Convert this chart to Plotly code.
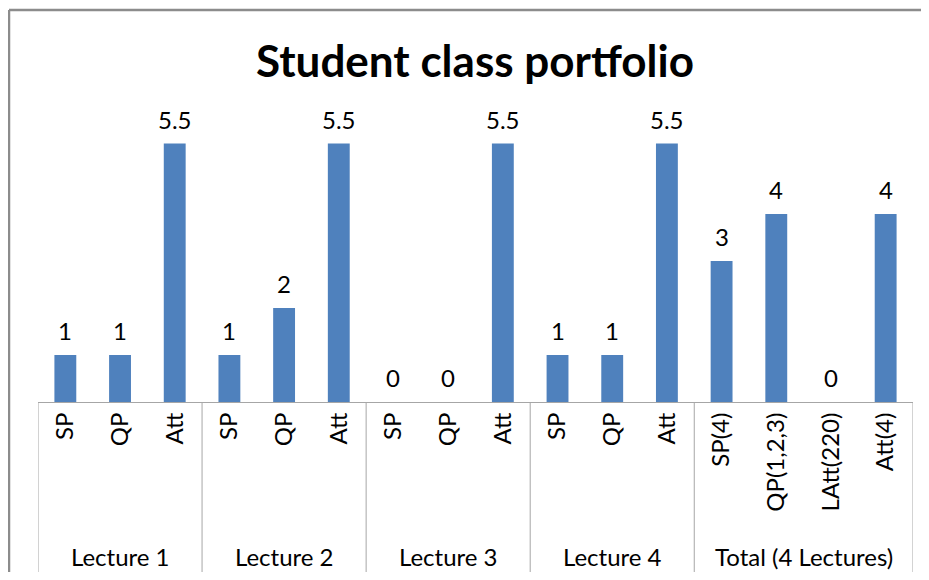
import plotly.graph_objects as go

groups = ["Lecture 1", "Lecture 2", "Lecture 3", "Lecture 4", "Total (4 Lectures)"]
group_items = [
    ["SP", "QP", "Att"],
    ["SP", "QP", "Att"],
    ["SP", "QP", "Att"],
    ["SP", "QP", "Att"],
    ["SP(4)", "QP(1,2,3)", "LAtt(220)", "Att(4)"],
]
group_values = [
    [1, 1, 5.5],
    [1, 2, 5.5],
    [0, 0, 5.5],
    [1, 1, 5.5],
    [3, 4, 0, 4],
]

labels = [l for g in group_items for l in g]
values = [v for g in group_values for v in g]
xs = list(range(len(labels)))

BAR = "#4F81BD"
GRID = "#A6A6A6"
FONT = "Lato"
FS = 24

# page body has an 8px margin; plot area target 38..913 x, 120..402 y in window pixels
W, H = 913, 564
ML, MR, MT = 30, W - 905, 112
MB = H - 394
PH = 394 - MT

def py(pix):
    # window pixel y -> paper coordinate
    return (394 - (pix - 8)) / PH

fig = go.Figure()
fig.add_trace(go.Bar(x=xs, y=values, width=0.4, marker=dict(color=BAR, line=dict(width=0)),
                     hoverinfo="x+y"))

annotations = []
for x, v in zip(xs, values):
    annotations.append(dict(x=x, y=v, xref="x", yref="y", text=f"{v:g}", showarrow=False,
                            yanchor="bottom", yshift=8, font=dict(family=FONT, size=FS, color="#000000")))

shapes = []
start = 0
bounds = [-0.5]
for gname, items in zip(groups, group_items):
    end = start + len(items)
    bounds.append(end - 0.5)
    annotations.append(dict(x=(start + end - 1) / 2, y=py(556), xref="x", yref="paper", text=gname,
                            showarrow=False, yanchor="middle",
                            font=dict(family=FONT, size=FS, color="#000000")))
    start = end
for b in bounds:
    shapes.append(dict(type="line", xref="x", yref="paper", x0=b, x1=b, y0=0, y1=py(573),
                       line=dict(color=GRID, width=1)))

# chart-area border (left and top edges)
bx = (9 - 8 - ML) / (W - ML - MR)
by = py(10)
shapes.append(dict(type="line", xref="paper", yref="paper", x0=bx, x1=bx, y0=by, y1=py(580),
                   line=dict(color="#8C8C8C", width=2.5)))
shapes.append(dict(type="line", xref="paper", yref="paper", x0=bx, x1=1 + MR / (W - ML - MR), y0=by, y1=by,
                   line=dict(color="#8C8C8C", width=2.5)))

fig.update_layout(
    width=W, height=H,
    margin=dict(l=ML, r=MR, t=MT, b=MB),
    paper_bgcolor="white", plot_bgcolor="white",
    title=dict(text="<b>Student class portfolio</b>", x=(475 - 8) / W, xanchor="center", y=1 - (62 - 8) / H,
               yanchor="middle", yref="container", font=dict(family=FONT, size=44, color="#000000")),
    xaxis=dict(range=[-0.5, len(labels) - 0.5], tickvals=xs, ticktext=labels, tickangle=-90,
               showline=True, linecolor=GRID, linewidth=1, ticks="", showgrid=False, zeroline=False,
               tickfont=dict(family=FONT, size=FS, color="#000000"), ticklabelstandoff=0),
    yaxis=dict(range=[0, 6], visible=False, showgrid=False, zeroline=False),
    showlegend=False,
    annotations=annotations,
    shapes=shapes,
    bargap=0.6,
)

fig.write_html("out.html")
